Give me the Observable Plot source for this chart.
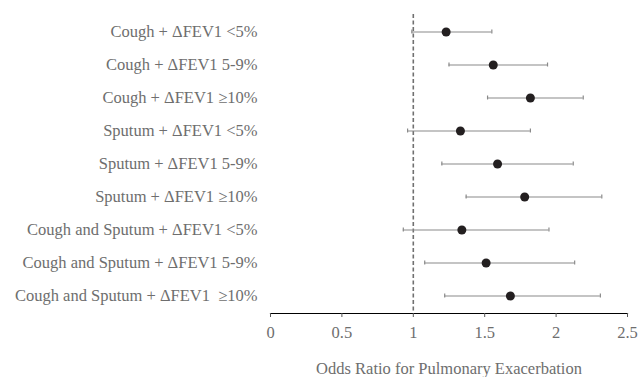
<!DOCTYPE html>
<html>
<head>
<meta charset="utf-8">
<script src="https://cdn.jsdelivr.net/npm/d3@7"></script>
<script src="https://cdn.jsdelivr.net/npm/@observablehq/plot@0.6"></script>
<style>
  html, body { margin: 0; padding: 0; background: #fff; }
</style>
</head>
<body>
<div id="chart"></div>
<script>
const categories = [
  "Cough + ΔFEV1 <5%",
  "Cough + ΔFEV1 5-9%",
  "Cough + ΔFEV1 ≥10%",
  "Sputum + ΔFEV1 <5%",
  "Sputum + ΔFEV1 5-9%",
  "Sputum + ΔFEV1 ≥10%",
  "Cough and Sputum + ΔFEV1 <5%",
  "Cough and Sputum + ΔFEV1 5-9%",
  "Cough and Sputum + ΔFEV1  ≥10%"
];
const oddsRatio = [1.23, 1.56, 1.82, 1.33, 1.59, 1.78, 1.34, 1.51, 1.68];
const lowerCI   = [0.99, 1.25, 1.52, 0.96, 1.20, 1.37, 0.93, 1.08, 1.22];
const upperCI   = [1.55, 1.94, 2.19, 1.82, 2.12, 2.32, 1.95, 2.13, 2.31];
const xTicks = [0, 0.5, 1, 1.5, 2, 2.5];
const xLabel = "Odds Ratio for Pulmonary Exacerbation";

const data = categories.map((c, i) => ({cat: c, or: oddsRatio[i], lo: lowerCI[i], hi: upperCI[i]}));

const textColor = "#6e6e6e";
const chart = Plot.plot({
  width: 638,
  height: 377,
  marginLeft: 270,
  marginRight: 11,
  marginTop: 14,
  marginBottom: 64,
  style: {fontFamily: "'Liberation Serif', 'Times New Roman', serif", fontSize: "16.5px", color: textColor, background: "#fff"},
  x: {domain: [0, 2.5]},
  y: {domain: categories, padding: 0},
  marks: [
    Plot.ruleX([1], {stroke: "#707070", strokeWidth: 1.6, strokeDasharray: "4,2.5"}),
    Plot.ruleY(data, {y: "cat", x1: "lo", x2: "hi", stroke: "#8a8a8a", strokeWidth: 1.2}),
    Plot.tickX(data, {x: "lo", y: "cat", stroke: "#8a8a8a", strokeWidth: 1.2, insetTop: 14.5, insetBottom: 14.5}),
    Plot.tickX(data, {x: "hi", y: "cat", stroke: "#8a8a8a", strokeWidth: 1.2, insetTop: 14.5, insetBottom: 14.5}),
    Plot.dot(data, {x: "or", y: "cat", r: 4.5, fill: "#231f20", stroke: "none"}),
    Plot.axisY({tickSize: 0, tickPadding: 13, fontSize: 16.5, fill: textColor, label: null}),
    Plot.frame({anchor: "bottom", stroke: "#000", strokeOpacity: 1, strokeWidth: 1.2}),
    Plot.axisX({ticks: xTicks, tickFormat: d => String(d), tickSize: 4, tickPadding: 9, stroke: "#555", strokeOpacity: 1, fill: textColor, fontSize: 16.5,
      label: xLabel, labelAnchor: "center", labelOffset: 60, labelArrow: "none"})
  ]
});
document.getElementById("chart").appendChild(chart);
</script>
</body>
</html>
